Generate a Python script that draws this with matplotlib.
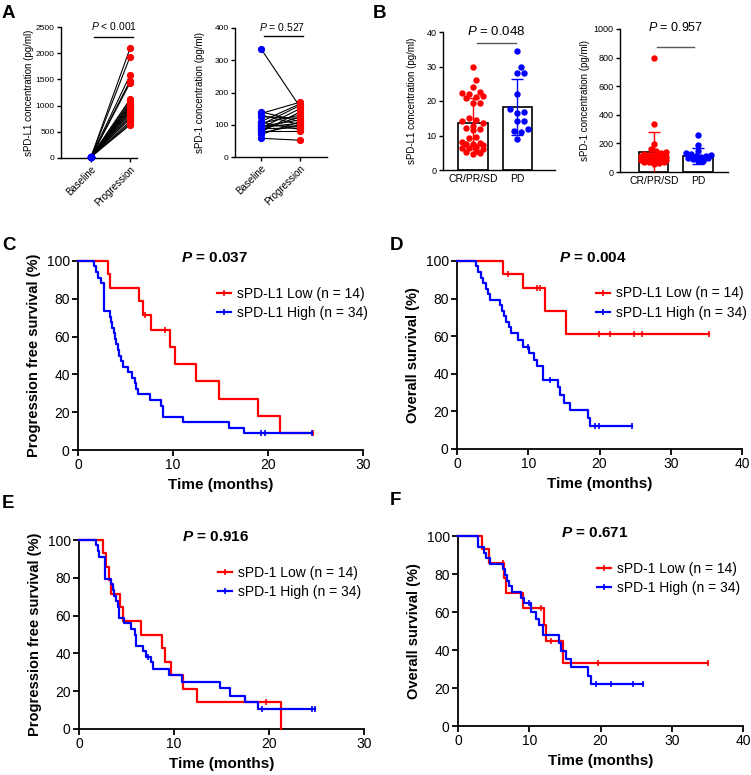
import numpy as np
import matplotlib
matplotlib.use('Agg')
import matplotlib.pyplot as plt
from matplotlib.lines import Line2D

plt.rcParams['font.family'] = ['Liberation Sans', 'DejaVu Sans']
plt.rcParams['mathtext.fontset'] = 'custom'
plt.rcParams['mathtext.rm'] = 'Liberation Sans'
plt.rcParams['mathtext.it'] = 'Liberation Sans:italic'
plt.rcParams['mathtext.bf'] = 'Liberation Sans:bold'
plt.rcParams['mathtext.bfit'] = 'Liberation Sans:italic:bold'

RED = '#ff0000'
BLUE = '#0000ff'

# ---------------- data ----------------
pair_labels = ['Baseline', 'Progression']
A_pdl1_base = [22, 18, 25, 20, 15, 28, 24, 19, 21, 17, 26, 23, 16, 20, 22, 18, 27, 14, 21, 19]
A_pdl1_prog = [2090, 1930, 1580, 1470, 1430, 1120, 1080, 1040, 1010, 980, 950, 920, 890, 860, 820, 780, 750, 700, 660, 630]
A_pd1_base = [335, 140, 135, 130, 125, 110, 108, 105, 100, 98, 95, 92, 90, 88, 85, 80, 78, 75, 70, 58]
A_pd1_prog = [155, 110, 170, 100, 120, 165, 85, 130, 160, 95, 115, 105, 150, 90, 125, 80, 140, 100, 110, 52]

resp_labels = ['CR/PR/SD', 'PD']
B_pdl1_crprsd = [30, 26, 24, 22.5, 22.2, 22, 21.5, 21.2, 20.8, 19.5, 19.3, 15, 14.6, 14.2, 13.5, 12.8,
                 12.3, 12, 11.5, 9.5, 9.2, 8, 7.8, 7.6, 7.5, 7.3, 6.8, 6.5, 6.3, 6, 5.5, 5.2, 5, 4.5]
B_pdl1_pd = [34.5, 29.8, 28, 28, 22, 17.8, 16.8, 16.5, 14.2, 14.2, 12, 11.2, 11, 9]
B_pdl1_mean = [13.5, 18.3]
B_pdl1_sd = [7.4, 8.2]
B_pd1_crprsd = [800, 335, 195, 160, 150, 140, 130, 125, 120, 118, 115, 112, 110, 108, 105, 103, 100,
                100, 98, 95, 93, 90, 88, 86, 85, 82, 80, 78, 75, 72, 70, 68, 65, 55]
B_pd1_pd = [260, 188, 150, 130, 125, 120, 115, 110, 105, 100, 95, 90, 80, 75]
B_pd1_mean = [138, 112]
B_pd1_sd = [140, 57]

# Kaplan-Meier steps (time of drop, survival % after drop), last follow-up, censor times
C_low_t = [3.2, 3.4, 6.4, 6.8, 7.7, 9.65, 10.2, 12.4, 14.8, 18.9, 21.3]
C_low_s = [92.9, 85.7, 78.6, 71.4, 63.5, 54.5, 45.4, 36.3, 27.2, 18.2, 9.1]
C_low_end = 24.7
C_low_cens = [7.1, 9.2, 24.7]
C_high_t = [1.7, 1.9, 2.1, 2.4, 2.7, 3.4, 3.5, 3.6, 3.75, 3.9, 4.0, 4.2, 4.35, 4.5, 4.7, 5.3, 5.7,
            6.0, 6.1, 6.3, 7.6, 8.7, 8.9, 11.0, 15.9, 17.5]
C_high_s = [97.1, 94.1, 91.2, 88.2, 73.5, 70.6, 67.6, 64.7, 61.8, 58.8, 55.9, 52.9, 50.0, 47.1, 44.1,
            41.2, 38.2, 35.3, 32.4, 29.4, 26.5, 23.5, 17.6, 14.7, 11.8, 8.8]
C_high_end = 24.6
C_high_cens = [19.3, 19.7, 24.6]

D_low_t = [6.5, 9.2, 12.3, 15.3]
D_low_s = [92.9, 85.7, 73.4, 61.2]
D_low_end = 35.3
D_low_cens = [7.2, 11.2, 11.7, 19.9, 21.5, 24.9, 26.0, 35.3]
D_high_t = [2.7, 3.0, 3.3, 3.6, 4.0, 4.3, 4.6, 6.0, 6.3, 6.6, 6.9, 7.3, 7.6, 8.5, 9.3, 10.1, 10.8,
            11.2, 12.0, 14.2, 14.5, 15.0, 15.8, 18.4, 18.7]
D_high_s = [97.1, 94.1, 91.2, 88.2, 85.3, 82.4, 79.4, 76.5, 73.5, 70.6, 67.6, 64.7, 61.8, 57.9, 54.4,
            50.9, 47.3, 44.1, 36.7, 33.2, 28.8, 24.7, 20.8, 16.4, 12.4]
D_high_end = 24.6
D_high_cens = [9.9, 13.0, 19.4, 19.9, 24.6]

E_low_t = [2.5, 2.8, 3.2, 3.4, 4.3, 4.6, 6.5, 8.7, 9.1, 9.7, 10.9, 12.4, 21.3]
E_low_s = [92.9, 85.7, 78.6, 71.4, 64.3, 57.1, 50.0, 42.9, 35.7, 28.6, 21.4, 14.3, 0]
E_low_end = 21.3
E_low_cens = [19.7]
E_high_t = [1.75, 2.0, 2.1, 2.7, 3.4, 3.6, 3.7, 3.9, 4.1, 4.2, 4.7, 5.5, 5.9, 6.0, 6.7, 7.0, 7.6,
            7.8, 9.5, 10.8, 14.8, 15.9, 17.5, 18.8]
E_high_s = [97.1, 94.1, 91.2, 79.4, 76.5, 73.5, 70.6, 67.6, 64.7, 58.8, 55.9, 52.9, 50.0, 44.1, 41.2,
            38.2, 35.3, 31.6, 28.7, 25.0, 21.5, 17.6, 14.3, 10.8]
E_high_end = 24.8
E_high_cens = [7.3, 19.3, 24.5, 24.8]

F_low_t = [3.4, 4.3, 6.5, 6.8, 9.1, 12.0, 12.3, 14.7]
F_low_s = [92.9, 85.7, 77.9, 70.1, 62.3, 53.4, 44.5, 33.4]
F_low_end = 35.1
F_low_cens = [6.3, 11.7, 13.1, 19.7, 35.1]
F_high_t = [2.8, 3.6, 4.0, 4.5, 6.3, 6.6, 6.9, 7.2, 7.6, 8.9, 9.2, 10.3, 11.0, 11.3, 11.9, 14.2,
            14.4, 15.1, 15.8, 18.3, 18.7]
F_high_s = [94.1, 91.2, 88.2, 85.3, 82.4, 79.4, 76.5, 73.5, 70.6, 67.6, 64.7, 60.1, 56.4, 52.9, 48.1,
            43.9, 39.6, 35.3, 30.9, 26.4, 22.0]
F_high_end = 25.9
F_high_cens = [10.0, 19.4, 21.5, 24.6, 25.9]

# ---------------- figure ----------------
W, H = 751, 775
fig = plt.figure(figsize=(W / 100, H / 100), dpi=100)


def axes_px(x0, y0, x1, y1):
    return fig.add_axes([x0 / W, 1 - y1 / H, (x1 - x0) / W, (y1 - y0) / H])


def style(ax, lw=1.0, tl=3, fs=6.5):
    for s in ['top', 'right']:
        ax.spines[s].set_visible(False)
    for s in ['left', 'bottom']:
        ax.spines[s].set_linewidth(lw)
    ax.tick_params(direction='out', length=tl, width=lw, labelsize=fs, pad=1.5, color='black')


def pair_panel(ax, base, prog, ymax, ystep, ylabel, ptxt, line_y, text_x, xlim, lpad):
    ax.set_xlim(*xlim)
    ax.set_ylim(0, ymax)
    for b, p in zip(base, prog):
        ax.plot([0, 1], [b, p], color='black', lw=0.8, zorder=2, clip_on=False)
    ax.plot(np.zeros(len(base)), base, 'o', color=BLUE, ms=4.2, zorder=3, clip_on=False)
    ax.plot(np.ones(len(prog)), prog, 'o', color=RED, ms=4.2, zorder=3, clip_on=False)
    style(ax, fs=6)
    ax.set_yticks(np.arange(0, ymax + 1, ystep))
    ax.set_xticks([0, 1])
    ax.set_xticklabels(pair_labels, rotation=45, ha='right', rotation_mode='anchor', fontsize=7)
    ax.set_ylabel(ylabel, fontsize=7, labelpad=lpad)
    ax.plot([0.08, 1.08], [line_y, line_y], color='black', lw=1.0, clip_on=False)
    ax.text(text_x, ymax * 1.005, ptxt, ha='center', va='center', fontsize=7.5)


def swarm_offsets(ax, center, vals, diam, maxoff):
    pts = ax.transData.transform(np.column_stack([np.full(len(vals), center), vals]))
    ys = pts[:, 1]
    ppu = ax.transData.transform((1, 0))[0] - ax.transData.transform((0, 0))[0]
    order = np.argsort(ys)
    placed = []
    off = np.zeros(len(vals))
    step = diam * 0.5
    nk = int(2 * maxoff / step) + 1
    cands = [0.0]
    for k in range(1, nk):
        c = ((k + 1) // 2) * step * (1 if k % 2 else -1)
        if abs(c) <= maxoff:
            cands.append(c)
    for i in order:
        best, bestd = 0.0, -1
        for c in cands:
            d = min([np.hypot(c - px, ys[i] - py) for px, py in placed] + [1e9])
            if d >= diam:
                best = c
                break
            if d > bestd:
                best, bestd = c, d
        placed.append((best, ys[i]))
        off[i] = best / ppu
    return off


def bar_panel(ax, groups, means, sds, ymax, ystep, ylabel, ptxt, line_y, line_x, text_x, xlim, lpad,
              pfs, diam):
    ax.set_xlim(*xlim)
    ax.set_ylim(0, ymax)
    ax.bar([0, 1], means, width=0.66, color='white', edgecolor='black', lw=1.2, zorder=1)
    cols = [RED, BLUE]
    for i in range(2):
        lo = min(sds[i], means[i])
        ax.errorbar(i, means[i], yerr=[[lo], [sds[i]]], color=cols[i], capsize=4, lw=1.0,
                    capthick=1.0, zorder=2)
        off = swarm_offsets(ax, i, groups[i], diam, 13)
        ax.plot(i + off, groups[i], 'o', color=cols[i], ms=3.6, zorder=3, clip_on=False)
    style(ax, fs=6.5)
    ax.tick_params(axis='x', length=0, labelsize=7.5, pad=3)
    ax.set_yticks(np.arange(0, ymax + 1, ystep))
    ax.set_xticks([0, 1])
    ax.set_xticklabels(resp_labels)
    ax.set_ylabel(ylabel, fontsize=7, labelpad=lpad)
    ax.plot(line_x, [line_y, line_y], color='#555555', lw=1.0, clip_on=False)
    ax.text(text_x, ymax * 1.007, ptxt, ha='center', va='center', fontsize=pfs)


def km_curve(ax, t, s, end, cens, color):
    xs = [0] + list(t) + [end]
    ys = [100] + list(s) + [s[-1]]
    ax.step(xs, ys, where='post', color=color, lw=1.6, clip_on=False, zorder=3)
    tt = np.array(t)
    cy = [ys[np.searchsorted(tt, c, side='right')] for c in cens]
    ax.plot(cens, cy, ls='none', marker='|', ms=4, mew=1.2, color=color, clip_on=False, zorder=3)


def km_panel(ax, low, high, xmax, ylabel, ptxt, labels):
    ax.set_xlim(0, xmax)
    ax.set_ylim(0, 100)
    km_curve(ax, *low, RED)
    km_curve(ax, *high, BLUE)
    style(ax, lw=1.3, tl=4, fs=10)
    ax.tick_params(pad=2)
    ax.set_xticks(np.arange(0, xmax + 1, 10))
    ax.set_yticks(np.arange(0, 101, 20))
    ax.set_xlabel('Time (months)', fontsize=11, fontweight='bold', labelpad=4)
    ax.set_ylabel(ylabel, fontsize=10.5, fontweight='bold', labelpad=4)
    ax.text(0.478, 1.016, ptxt, transform=ax.transAxes, ha='center', va='center',
            fontsize=11, fontweight='bold')
    handles = [Line2D([0], [0], color=RED, lw=1.6, marker='|', ms=4, mew=1.2),
               Line2D([0], [0], color=BLUE, lw=1.6, marker='|', ms=4, mew=1.2)]
    ax.legend(handles, labels, loc='upper left', bbox_to_anchor=(0.488, 0.865), frameon=False,
              fontsize=10, handlelength=1.0, handletextpad=0.4, labelspacing=0.4,
              borderpad=0, borderaxespad=0)


# Panel A
axA1 = axes_px(61, 27, 137, 158)
pair_panel(axA1, A_pdl1_base, A_pdl1_prog, 2500, 500, 'sPD-L1 concentration (pg/ml)',
           r'$\mathit{P}$ < 0.001', 2309, 0.59, (-0.77, 1.18), 1.5)
axA2 = axes_px(235, 28, 327, 157)
pair_panel(axA2, A_pd1_base, A_pd1_prog, 400, 100, 'sPD-1 concentration (pg/ml)',
           r'$\mathit{P}$ = 0.527', 375, 0.54, (-0.67, 1.69), 7)

# Panel B
axB1 = axes_px(443, 32, 555, 170)
bar_panel(axB1, [B_pdl1_crprsd, B_pdl1_pd], B_pdl1_mean, B_pdl1_sd, 40, 10,
          'sPD-L1 concentration (pg/ml)', r'$\mathit{P}$ = 0.048', 36.8, [0.09, 0.98], 0.52,
          (-0.68, 1.86), 7, 9.5, 7.0)
axB2 = axes_px(620, 29, 728, 172)
bar_panel(axB2, [B_pd1_crprsd, B_pd1_pd], B_pd1_mean, B_pd1_sd, 1000, 200,
          'sPD-1 concentration (pg/ml)', r'$\mathit{P}$ = 0.957', 874, [0.07, 0.9], 0.48,
          (-0.77, 1.68), 3, 9, 5.0)

# Panels C-F
axC = axes_px(78, 261, 363, 450)
km_panel(axC, (C_low_t, C_low_s, C_low_end, C_low_cens), (C_high_t, C_high_s, C_high_end, C_high_cens),
         30, 'Progression free survival (%)', r'$\mathbfit{P}$ = 0.037',
         ['sPD-L1 Low (n = 14)', 'sPD-L1 High (n = 34)'])
axD = axes_px(457, 261, 742, 449)
km_panel(axD, (D_low_t, D_low_s, D_low_end, D_low_cens), (D_high_t, D_high_s, D_high_end, D_high_cens),
         40, 'Overall survival (%)', r'$\mathbfit{P}$ = 0.004',
         ['sPD-L1 Low (n = 14)', 'sPD-L1 High (n = 34)'])
axE = axes_px(79, 540, 364, 729)
km_panel(axE, (E_low_t, E_low_s, E_low_end, E_low_cens), (E_high_t, E_high_s, E_high_end, E_high_cens),
         30, 'Progression free survival (%)', r'$\mathbfit{P}$ = 0.916',
         ['sPD-1 Low (n = 14)', 'sPD-1 High (n = 34)'])
axF = axes_px(458, 536, 743, 726)
km_panel(axF, (F_low_t, F_low_s, F_low_end, F_low_cens), (F_high_t, F_high_s, F_high_end, F_high_cens),
         40, 'Overall survival (%)', r'$\mathbfit{P}$ = 0.671',
         ['sPD-1 Low (n = 14)', 'sPD-1 High (n = 34)'])

# Panel letters
for lab, x, y in [('A', 2, 18), ('B', 373, 18), ('C', 2, 250), ('D', 390, 250), ('E', 2, 508), ('F', 390, 505)]:
    fig.text(x / W, 1 - y / H, lab, fontsize=13.5, fontweight='bold', va='baseline', ha='left')

fig.savefig('out.png', dpi=100)
